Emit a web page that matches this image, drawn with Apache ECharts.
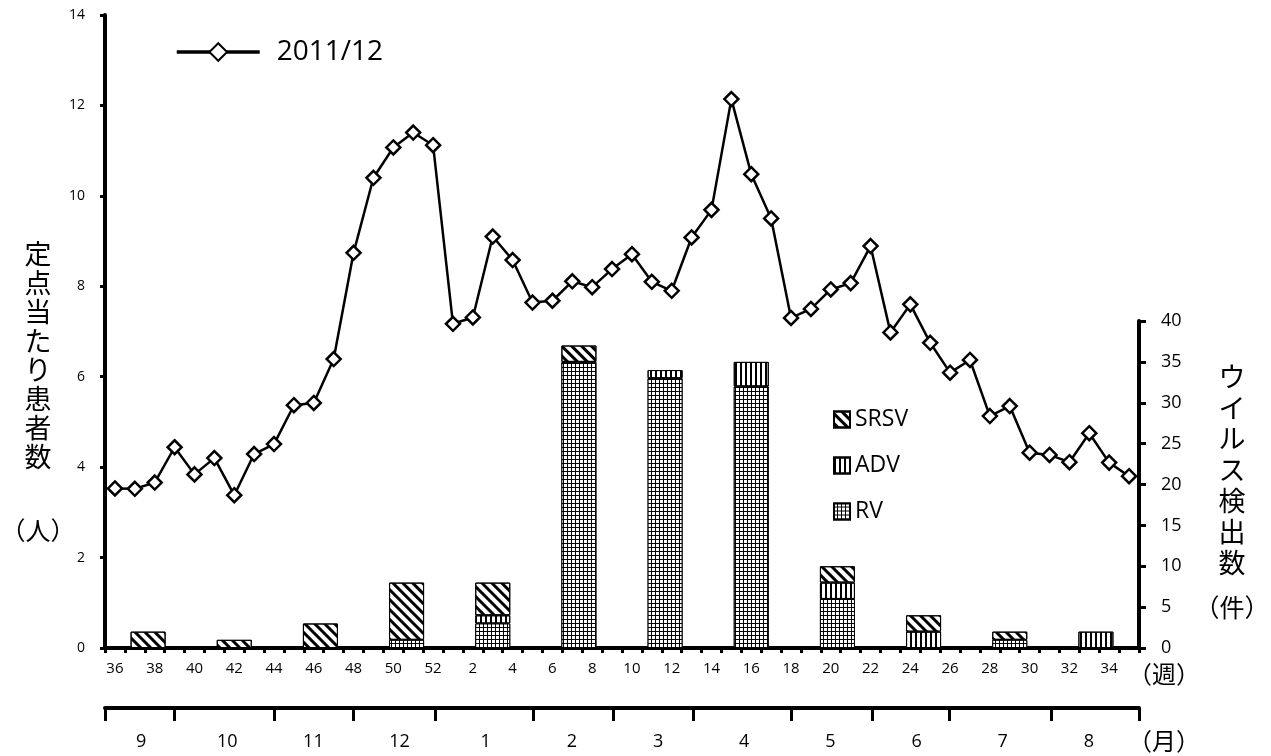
<!DOCTYPE html>
<html>
<head>
<meta charset="utf-8">
<script src="https://cdn.jsdelivr.net/npm/echarts@6/dist/echarts.min.js"></script>
<style>
    body { margin: 0; background: #fff; }
    #chart { width: 1271px; height: 756px; }
</style>
</head>
<body>
<div id="chart"></div>
<script>
// weeks 36..52 of 2011, then 1..35 of 2012
const weeks = [36, 37, 38, 39, 40, 41, 42, 43, 44, 45, 46, 47, 48, 49, 50, 51, 52,
    1, 2, 3, 4, 5, 6, 7, 8, 9, 10, 11, 12, 13, 14, 15, 16, 17, 18, 19, 20,
    21, 22, 23, 24, 25, 26, 27, 28, 29, 30, 31, 32, 33, 34, 35];
const patients = [3.53, 3.52, 3.66, 4.44, 3.84, 4.20, 3.38, 4.29, 4.51, 5.37, 5.42, 6.39, 8.74, 10.40, 11.07, 11.40, 11.12,
    7.17, 7.31, 9.10, 8.58, 7.64, 7.68, 8.11, 7.98, 8.38, 8.71, 8.10, 7.90, 9.08, 9.69, 12.14, 10.48, 9.50, 7.30, 7.50, 7.93,
    8.07, 8.89, 6.98, 7.60, 6.75, 6.09, 6.37, 5.13, 5.35, 4.32, 4.27, 4.11, 4.75, 4.10, 3.80];

const months = ['9', '10', '11', '12', '1', '2', '3', '4', '5', '6', '7', '8'];
const rv   = [0, 0, 0, 1, 3, 35, 33, 32, 6, 0, 1, 0];
const adv  = [0, 0, 0, 0, 1, 0, 1, 3, 2, 2, 0, 2];
const srsv = [2, 1, 3, 7, 4, 2, 0, 0, 2, 2, 1, 0];

// month borders on the week scale (0 = start of week 36)
const monthEdges = [0, 3.5, 8.5, 12.5, 16.6, 21.55, 25.55, 29.6, 34.5, 38.6, 42.45, 47.6, 52];

const font = '"Open Sans", sans-serif';
const jpFont = '"Noto Sans CJK JP", sans-serif';

const chart = echarts.init(document.getElementById('chart'));

function nz(arr) {
    return arr.map(function(v) { return v === 0 ? null : v; });
}

const option = {
    animation: false,
    backgroundColor: '#fff',
    textStyle: { fontFamily: font, color: '#000' },
    grid: [
        { left: 105, right: 132, top: 15, bottom: 108 },
        { left: 105, right: 132, top: 321, bottom: 108 }
    ],
    legend: [{
        data: ['2011/12'],
        left: 170,
        top: 33,
        itemWidth: 83,
        itemHeight: 22,
        textStyle: { fontSize: 28, color: '#000', fontFamily: font, padding: [0, 0, 0, 12] },
        lineStyle: { width: 3.5 }
    }, {
        data: ['SRSV', 'ADV', 'RV'],
        orient: 'vertical',
        left: 828,
        top: 403,
        icon: 'rect',
        itemWidth: 16,
        itemHeight: 16,
        itemGap: 23,
        textStyle: { fontSize: 23, color: '#000', fontFamily: font }
    }],
    xAxis: [{
        // weeks
        type: 'category',
        gridIndex: 0,
        position: 'bottom',
        data: weeks,
        boundaryGap: true,
        axisLine: { onZero: false, lineStyle: { color: '#000', width: 4 } },
        axisTick: { show: true, interval: 0, length: 5, lineStyle: { color: '#000', width: 3 } },
        axisLabel: { interval: 1, fontSize: 15, color: '#000', margin: 13 }
    }, {
        // month labels for the bars
        type: 'category',
        gridIndex: 1,
        position: 'bottom',
        data: months,
        axisLine: { show: false, onZero: false },
        axisTick: { show: false },
        axisLabel: { fontSize: 18, color: '#000', margin: 85, padding: [0, 14, 0, 0] }
    }, {
        // month scale with ticks at month borders
        type: 'value',
        gridIndex: 1,
        position: 'bottom',
        min: 0,
        max: 52,
        offset: 60,
        axisLine: { show: true, onZero: false, lineStyle: { color: '#000', width: 4 } },
        axisTick: { show: true, length: 13, customValues: monthEdges, lineStyle: { color: '#000', width: 3 } },
        axisLabel: { show: false },
        splitLine: { show: false }
    }],
    yAxis: [{
        type: 'value',
        gridIndex: 0,
        position: 'left',
        min: 0,
        max: 14,
        interval: 2,
        axisLine: { show: true, onZero: false, lineStyle: { color: '#000', width: 4 } },
        axisTick: { show: true, length: 5, lineStyle: { color: '#000', width: 3 } },
        axisLabel: { fontSize: 14, color: '#000', margin: 20 },
        splitLine: { show: false }
    }, {
        type: 'value',
        gridIndex: 1,
        position: 'right',
        min: 0,
        max: 40,
        interval: 5,
        axisLine: { show: true, onZero: false, lineStyle: { color: '#000', width: 4 } },
        axisTick: { show: true, length: 7, lineStyle: { color: '#000', width: 3 } },
        axisLabel: { fontSize: 18, color: '#000', margin: 22 },
        splitLine: { show: false }
    }],
    series: [{
        name: 'RV',
        type: 'bar',
        stack: 'virus',
        xAxisIndex: 1,
        yAxisIndex: 1,
        barWidth: 35,
        data: nz(rv),
        itemStyle: {
            color: '#000',
            borderColor: '#000',
            borderWidth: 1,
            decal: { symbol: 'rect', color: '#fff', symbolSize: 1, dashArrayX: [3, 1], dashArrayY: [3, 1] }
        }
    }, {
        name: 'ADV',
        type: 'bar',
        stack: 'virus',
        xAxisIndex: 1,
        yAxisIndex: 1,
        barWidth: 35,
        data: nz(adv),
        itemStyle: {
            color: '#fff',
            borderColor: '#000',
            borderWidth: 1,
            decal: { symbol: 'rect', color: '#000', symbolSize: 1, dashArrayX: [2, 3], dashArrayY: [1, 0] }
        }
    }, {
        name: 'SRSV',
        type: 'bar',
        stack: 'virus',
        xAxisIndex: 1,
        yAxisIndex: 1,
        barWidth: 35,
        data: nz(srsv),
        itemStyle: {
            color: '#fff',
            borderColor: '#000',
            borderWidth: 1,
            decal: { symbol: 'rect', color: '#000', symbolSize: 1, dashArrayX: [1, 0], dashArrayY: [3, 4], rotation: Math.PI / 4 }
        }
    }, {
        name: '2011/12',
        type: 'line',
        xAxisIndex: 0,
        yAxisIndex: 0,
        z: 5,
        data: patients,
        symbol: 'diamond',
        symbolSize: 14,
        showAllSymbol: true,
        lineStyle: { color: '#000', width: 2.5 },
        itemStyle: { color: '#fff', borderColor: '#000', borderWidth: 2.5 }
    }],
    graphic: [{
        type: 'text', x: 38, y: 355,
        style: { text: '定\n点\n当\nた\nり\n患\n者\n数', font: '27px ' + jpFont, lineHeight: 29, align: 'center', verticalAlign: 'middle', fill: '#000' }
    }, {
        type: 'text', x: 38, y: 530,
        style: { text: '（人）', font: '25px ' + jpFont, align: 'center', verticalAlign: 'middle', fill: '#000' }
    }, {
        type: 'text', x: 1232, y: 470,
        style: { text: 'ウ\nイ\nル\nス\n検\n出\n数', font: '27px ' + jpFont, lineHeight: 31, align: 'center', verticalAlign: 'middle', fill: '#000' }
    }, {
        type: 'text', x: 1232, y: 607,
        style: { text: '（件）', font: '25px ' + jpFont, align: 'center', verticalAlign: 'middle', fill: '#000' }
    }, {
        type: 'text', x: 1128, y: 674,
        style: { text: '（週）', font: '24px ' + jpFont, align: 'left', verticalAlign: 'middle', fill: '#000' }
    }, {
        type: 'text', x: 1128, y: 741,
        style: { text: '（月）', font: '24px ' + jpFont, align: 'left', verticalAlign: 'middle', fill: '#000' }
    }]
};
chart.setOption(option);
</script>
</body>
</html>
